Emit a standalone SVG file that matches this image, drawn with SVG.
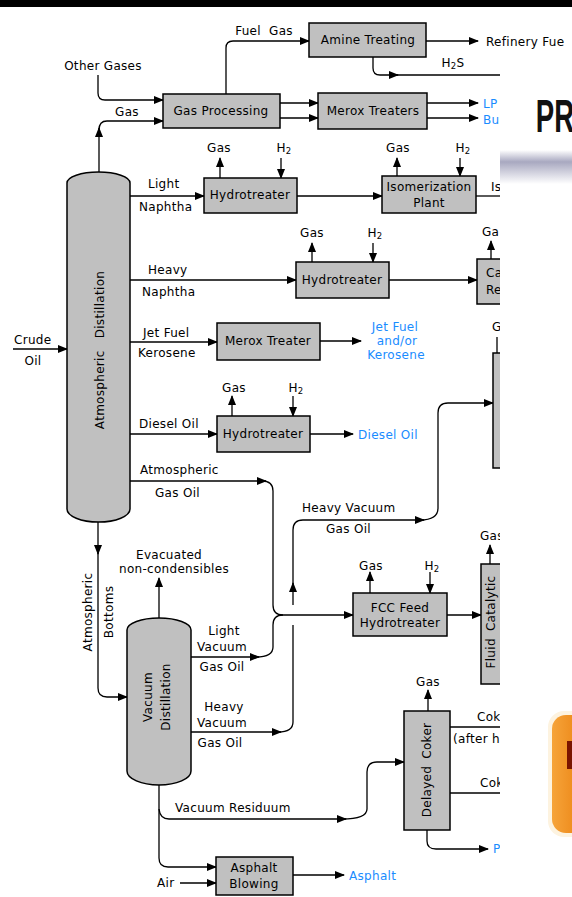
<svg xmlns="http://www.w3.org/2000/svg" width="572" height="897" viewBox="0 0 572 897">
<defs>
<marker id="ah" markerUnits="userSpaceOnUse" markerWidth="10" markerHeight="8" refX="9" refY="4" orient="auto">
<path d="M0,0 L10,4 L0,8 z" fill="#000"/>
</marker>
<linearGradient id="bar" x1="0" y1="0" x2="0" y2="1">
<stop offset="0" stop-color="#ffffff"/>
<stop offset="0.35" stop-color="#a8a8c0"/>
<stop offset="1" stop-color="#ffffff"/>
</linearGradient>
<linearGradient id="org" x1="0" y1="0" x2="1" y2="0">
<stop offset="0" stop-color="#f6a43a"/>
<stop offset="1" stop-color="#e87a08"/>
</linearGradient>
</defs>
<style>
.t{font-family:"DejaVu Sans","Liberation Sans",sans-serif;font-size:12px;letter-spacing:0.3px;fill:#000}
.c{text-anchor:middle}
.b{fill:#1a8cff}
.box{fill:#c0c0c0;stroke:#000;stroke-width:1.5}
.ln{fill:none;stroke:#000;stroke-width:1.3}
.ar{marker-end:url(#ah)}
.s{font-size:8.5px}
</style>
<rect x="0" y="0" width="572" height="7" fill="#000"/>

<g id="connectors">
<path class="ln ar" d="M99,172 V128"/>
<path class="ln ar" d="M99,130 Q99,121 107,121 H163"/>
<path class="ln ar" d="M98,75 V93 Q98,100 105,100 H163"/>
<path class="ln ar" d="M226,94 V48 Q226,41 233,41 H309"/>
<path class="ln ar" d="M426,41 H478"/>
<path class="ln ar" d="M373,57 V68 Q373,75 380,75 H398"/>
<path class="ln" d="M395,75 H500"/>
<path class="ln ar" d="M280,103 H318"/>
<path class="ln ar" d="M280,118 H318"/>
<path class="ln ar" d="M427,103 H478"/>
<path class="ln ar" d="M427,118 H478"/>
<path class="ln ar" d="M130,196 H204"/>
<path class="ln ar" d="M220,178 V158"/>
<path class="ln ar" d="M281,158 V178"/>
<path class="ln ar" d="M297,196 H382"/>
<path class="ln ar" d="M397,176 V158"/>
<path class="ln ar" d="M460,158 V176"/>
<path class="ln" d="M476,196 H500"/>
<path class="ln ar" d="M130,280 H296"/>
<path class="ln ar" d="M312,262 V243"/>
<path class="ln ar" d="M373,243 V262"/>
<path class="ln ar" d="M389,280 H477"/>
<path class="ln ar" d="M491,259 V241"/>
<path class="ln ar" d="M130,342 H217"/>
<path class="ln ar" d="M320,341 H361"/>
<path class="ln ar" d="M13,349 H67"/>
<path class="ln" d="M497,337 V353"/>
<path class="ln ar" d="M130,434 H217"/>
<path class="ln ar" d="M232,416 V396"/>
<path class="ln ar" d="M293,396 V416"/>
<path class="ln ar" d="M310,434 H353"/>
<path class="ln ar" d="M130,481 H266"/>
<path class="ln ar" d="M262,481 Q273,481 273,491 V605 Q273,615 283,615 H353"/>
<path class="ln ar" d="M191,657 H259"/>
<path class="ln" d="M256,657 Q273,657 273,647 V625 Q273,615 283,615"/>
<path class="ln ar" d="M191,732 H281"/>
<path class="ln" d="M278,732 Q293,732 293,722 V625"/>
<path class="ln ar" d="M293,605 V583"/>
<path class="ln ar" d="M293,590 V530 Q293,520 303,520 H424"/>
<path class="ln ar" d="M420,520 Q438,520 438,508 V413 Q438,403 448,403 H493"/>
<path class="ln ar" d="M98,522 V554"/>
<path class="ln ar" d="M98,550 V688 Q98,697 107,697 H127"/>
<path class="ln ar" d="M159,618 V578"/>
<path class="ln ar" d="M159,785 V858 Q159,867 168,867 H216"/>
<path class="ln ar" d="M159,809 Q160,819 169,819 H346"/>
<path class="ln ar" d="M342,819 Q367,819 367,809 V772 Q367,762 377,762 H404"/>
<path class="ln ar" d="M180,883 H216"/>
<path class="ln ar" d="M293,875 H344"/>
<path class="ln ar" d="M370,593 V572"/>
<path class="ln ar" d="M430,572 V593"/>
<path class="ln ar" d="M447,615 H481"/>
<path class="ln ar" d="M490,564 V545"/>
<path class="ln ar" d="M428,711 V690"/>
<path class="ln" d="M450,727 H500"/>
<path class="ln" d="M450,793 H500"/>
<path class="ln ar" d="M427,830 V841 Q427,849 436,849 H488"/>
</g>

<g id="atm-distillation">
<path class="box" d="M67,183 A31.5,11 0 0 1 130,183 V509 A31.5,13 0 0 1 67,509 Z"/>
<text class="t c" transform="translate(104,350) rotate(-90)" word-spacing="8" letter-spacing="0.8">Atmospheric Distillation</text>
</g>
<g id="vac-distillation">
<path class="box" d="M127,630 A32,12 0 0 1 191,630 V771 A32,14 0 0 1 127,771 Z"/>
<text class="t c" transform="translate(152,697) rotate(-90)">Vacuum</text>
<text class="t c" transform="translate(170,697) rotate(-90)">Distillation</text>
</g>
<g id="gas-processing">
<rect class="box" x="163" y="94" width="117" height="34"/>
<text class="t c" x="221" y="115">Gas Processing</text>
</g>
<g id="amine-treating">
<rect class="box" x="309" y="23" width="117" height="34"/>
<text class="t c" x="368" y="44">Amine Treating</text>
</g>
<g id="merox-treaters">
<rect class="box" x="318" y="93" width="109" height="36"/>
<text class="t c" x="373" y="115">Merox Treaters</text>
</g>
<g id="hydrotreater-1">
<rect class="box" x="204" y="178" width="93" height="35"/>
<text class="t c" x="250" y="199">Hydrotreater</text>
</g>
<g id="isomerization">
<rect class="box" x="382" y="176" width="94" height="37"/>
<text class="t c" x="429" y="191">Isomerization</text>
<text class="t c" x="429" y="207">Plant</text>
</g>
<g id="hydrotreater-2">
<rect class="box" x="296" y="262" width="93" height="36"/>
<text class="t c" x="342" y="284">Hydrotreater</text>
</g>
<g id="reformer">
<rect class="box" x="477" y="259" width="40" height="45"/>
<text class="t" x="486" y="277">Ca</text>
<text class="t" x="486" y="294">Re</text>
</g>
<g id="merox-treater">
<rect class="box" x="217" y="323" width="103" height="37"/>
<text class="t c" x="268" y="345">Merox Treater</text>
</g>
<g id="upper-unit">
<rect class="box" x="493" y="353" width="30" height="115"/>
</g>
<g id="hydrotreater-3">
<rect class="box" x="217" y="416" width="93" height="36"/>
<text class="t c" x="263" y="438">Hydrotreater</text>
</g>
<g id="fcc-feed-hydrotreater">
<rect class="box" x="353" y="593" width="94" height="43"/>
<text class="t c" x="400" y="612">FCC Feed</text>
<text class="t c" x="400" y="627">Hydrotreater</text>
</g>
<g id="fluid-catalytic">
<rect class="box" x="481" y="564" width="40" height="120"/>
<text class="t c" transform="translate(495,622) rotate(-90)" word-spacing="3">Fluid Catalytic</text>
</g>
<g id="delayed-coker">
<rect class="box" x="404" y="711" width="46" height="119"/>
<text class="t c" transform="translate(431,770) rotate(-90)" word-spacing="3">Delayed Coker</text>
</g>
<g id="asphalt-blowing">
<rect class="box" x="216" y="857" width="77" height="38"/>
<text class="t c" x="254" y="872">Asphalt</text>
<text class="t c" x="254" y="888">Blowing</text>
</g>

<g id="labels">
<text class="t c" x="264" y="35" word-spacing="4">Fuel Gas</text>
<text class="t c" x="103" y="70">Other Gases</text>
<text class="t c" x="127" y="116">Gas</text>
<text class="t" x="486" y="46" letter-spacing="0.6">Refinery Fue</text>
<text class="t c" x="453" y="67">H<tspan class="s" dy="2">2</tspan><tspan dy="-2">S</tspan></text>
<text class="t b" x="483" y="108">LP</text>
<text class="t b" x="483" y="124">Bu</text>
<text class="t c" x="219" y="152">Gas</text>
<text class="t c" x="284" y="152">H<tspan class="s" dy="2">2</tspan></text>
<text class="t c" x="398" y="152">Gas</text>
<text class="t c" x="463" y="152">H<tspan class="s" dy="2">2</tspan></text>
<text class="t" x="148" y="188">Light</text>
<text class="t" x="139" y="211">Naphtha</text>
<text class="t" x="491" y="191">Is</text>
<text class="t" x="148" y="274">Heavy</text>
<text class="t" x="142" y="296">Naphtha</text>
<text class="t c" x="312" y="237">Gas</text>
<text class="t c" x="375" y="237">H<tspan class="s" dy="2">2</tspan></text>
<text class="t" x="482" y="236">Ga</text>
<text class="t" x="143" y="337">Jet Fuel</text>
<text class="t" x="138" y="357">Kerosene</text>
<text class="t c b" x="395" y="331">Jet Fuel</text>
<text class="t c b" x="397" y="345">and/or</text>
<text class="t c b" x="396" y="359">Kerosene</text>
<text class="t" x="14" y="344">Crude</text>
<text class="t c" x="33" y="365">Oil</text>
<text class="t" x="492" y="331">G</text>
<text class="t" x="139" y="428">Diesel Oil</text>
<text class="t c" x="234" y="392">Gas</text>
<text class="t c" x="296" y="392">H<tspan class="s" dy="2">2</tspan></text>
<text class="t b" x="358" y="439">Diesel Oil</text>
<text class="t" x="140" y="474">Atmospheric</text>
<text class="t" x="155" y="497">Gas Oil</text>
<text class="t" x="302" y="512">Heavy Vacuum</text>
<text class="t" x="326" y="533">Gas Oil</text>
<text class="t c" x="169" y="559">Evacuated</text>
<text class="t c" x="174" y="573" letter-spacing="0.7">non-condensibles</text>
<text class="t c" transform="translate(92,612) rotate(-90)">Atmospheric</text>
<text class="t c" transform="translate(113,612) rotate(-90)">Bottoms</text>
<text class="t c" x="224" y="635">Light</text>
<text class="t c" x="222" y="651">Vacuum</text>
<text class="t c" x="222" y="671">Gas Oil</text>
<text class="t c" x="371" y="570">Gas</text>
<text class="t c" x="432" y="570">H<tspan class="s" dy="2">2</tspan></text>
<text class="t" x="480" y="540">Gas</text>
<text class="t c" x="224" y="711">Heavy</text>
<text class="t c" x="222" y="727">Vacuum</text>
<text class="t c" x="220" y="747">Gas Oil</text>
<text class="t c" x="428" y="686">Gas</text>
<text class="t" x="477" y="721">Cok</text>
<text class="t" x="453" y="743">(after h</text>
<text class="t" x="480" y="787">Cok</text>
<text class="t" x="175" y="812">Vacuum Residuum</text>
<text class="t b" x="493" y="853">P</text>
<text class="t" x="157" y="887">Air</text>
<text class="t b" x="349" y="880">Asphalt</text>
</g>

<g id="overlay">
<rect x="500" y="60" width="72" height="837" fill="#fff"/>
<rect x="500" y="150" width="72" height="34" fill="url(#bar)"/>
<text transform="scale(0.6,1)" x="893" y="132" font-family="Liberation Sans, sans-serif" font-weight="bold" font-size="46" fill="#111">PR</text>
<rect x="548" y="711" width="40" height="126" rx="16" fill="#fdf3e0"/>
<rect x="552" y="715" width="40" height="118" rx="14" fill="url(#org)"/>
<rect x="567" y="741" width="6" height="28" fill="#7a1400"/>
</g>
</svg>
